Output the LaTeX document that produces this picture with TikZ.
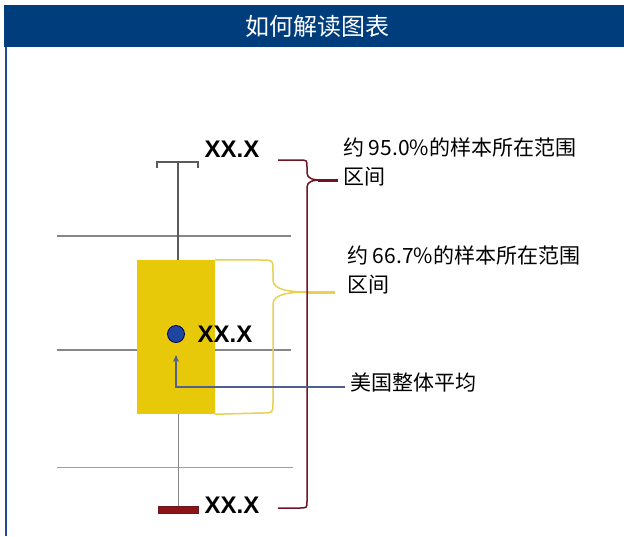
\documentclass[tikz,border=0pt]{standalone}
\usepackage{fontspec}
\setmainfont{Liberation Sans}
\newfontfamily\cjk{Noto Sans CJK SC}
\newfontfamily\lsans{Liberation Sans}
\usetikzlibrary{arrows.meta}
\definecolor{hdrblue}{RGB}{0,61,124}
\definecolor{edgeblue}{RGB}{30,78,140}
\definecolor{gold}{RGB}{232,201,10}
\definecolor{goldline}{RGB}{232,208,80}
\definecolor{maroon}{RGB}{110,20,35}
\definecolor{barred}{RGB}{140,20,20}
\definecolor{dotblue}{RGB}{30,70,160}
\definecolor{arrowblue}{RGB}{80,95,140}
\definecolor{gridgray}{RGB}{135,135,135}
\definecolor{whiskgray}{RGB}{90,90,90}
\tikzset{
  xxlabel/.style={font=\lsans\bfseries\fontsize{24}{24}\selectfont, inner sep=0pt},
  cjklabel/.style={font=\cjk\fontsize{21}{29}\selectfont, inner sep=0pt, align=left},
  gridline/.style={draw=gridgray, line width=1.6pt},
  bracemaroon/.style={draw=maroon, line width=1.5pt},
  braceyellow/.style={draw=goldline, line width=1.5pt},
}
\begin{document}
\begin{tikzpicture}[x=1pt,y=-1pt]
\useasboundingbox (0,0) rectangle (624,536);
% header
\fill[hdrblue] (4,5) rectangle (624,47);
\node[font=\cjk\fontsize{24}{24}\selectfont, text=white, inner sep=0pt] (title) at (317,26) {如何解读图表};
\draw[edgeblue, line width=2pt] (6,47) -- (6,536);
% grid lines
\coordinate (g1a) at (57,236); \coordinate (g1b) at (291,236);
\coordinate (g2a) at (57,350); \coordinate (g2b) at (291,350);
\coordinate (g3a) at (57,467); \coordinate (g3b) at (293,467);
\draw[gridline] (g1a) -- (g1b);
\draw[gridline] (g2a) -- (g2b);
\draw[draw=gridgray!80, line width=1pt] (g3a) -- (g3b);
% whiskers
\coordinate (captop) at (178,162);
\coordinate (capbot) at (178,506);
\draw[whiskgray, line width=1.6pt] (captop) -- (178,260);
\draw[whiskgray, line width=1.6pt] (157,168) -- (157,162) -- (198,162) -- (198,168);
\draw[gridgray, line width=1pt] (178,413) -- (capbot);
\node[fill=barred, draw=maroon, line width=0.8pt, minimum width=40pt, minimum height=7pt, inner sep=0pt, anchor=north] (bar) at (capbot) {};
% box
\node[fill=gold, minimum width=78pt, minimum height=154pt, inner sep=0pt] (box) at (176,337) {};
% yellow brace
\draw[braceyellow] (box.north east) -- (262,260) .. controls (273,260) .. (273,272) -- (273,280) .. controls (273,290) and (290,292) .. (308,292)
  .. controls (290,292) and (273,294) .. (273,304) -- (273,402) .. controls (273,413) .. (262,413) -- (box.south east);
\draw[goldline, line width=3pt] (308,292) -- (335,292);
% maroon brace
\draw[bracemaroon] (278,160) -- (299,160) .. controls (307,160) .. (307,167) -- (307,173) .. controls (307,179) and (314,180) .. (322,180)
  .. controls (314,180) and (307,181) .. (307,187) -- (307,501) .. controls (307,508) .. (299,508) -- (278,508);
\draw[maroon, line width=3pt] (318,180) -- (338,180);
% labels
\node[xxlabel] (xtop) at (232,149) {XX.X};
\node[xxlabel] (xmid) at (225,334) {XX.X};
\node[xxlabel] (xbot) at (232,505) {XX.X};
\node[cjklabel, anchor=base west] (t95) at (343,184) {约 95.0\%的样本所在范围\\区间};
\node[cjklabel, anchor=base west] (t667) at (347,292) {约 66.7\%的样本所在范围\\区间};
\node[font=\cjk\fontsize{21}{21}\selectfont, inner sep=0pt, anchor=base west] (avg) at (350,390) {美国整体平均};
% dot and arrow
\node[circle, fill=dotblue, draw=black!70!blue, line width=0.8pt, minimum size=17pt, inner sep=0pt] (dot) at (176,334) {};
\coordinate (arrstart) at (345,387);
\coordinate (arrend) at (176,355);
\draw[arrowblue, line width=1.5pt, -{Stealth[length=7pt,width=6pt]}] (arrstart) -| (arrend);
\end{tikzpicture}
\end{document}
